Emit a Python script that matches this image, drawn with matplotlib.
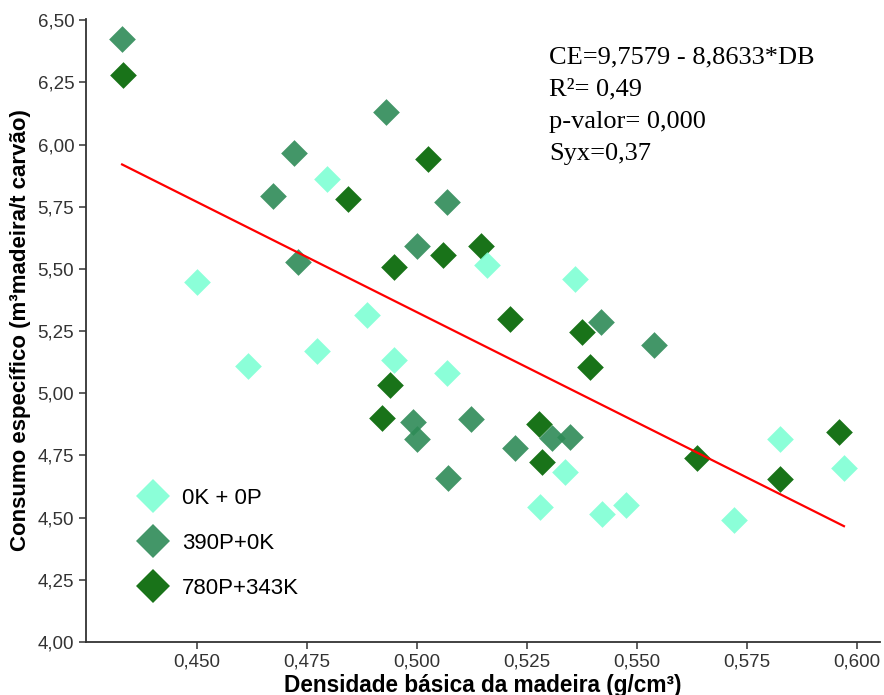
import matplotlib
matplotlib.use('Agg')
import matplotlib.pyplot as plt
from matplotlib.lines import Line2D
from matplotlib.ticker import FuncFormatter
import numpy as np

# densidade basica (g/cm3) e consumo especifico por tratamento
db_0k0p = [0.4500, 0.4617, 0.4796, 0.4774, 0.4887, 0.4948, 0.5068, 0.5159,
           0.5360, 0.5281, 0.5422, 0.5475, 0.5720, 0.5826, 0.5971, 0.5337]
ce_0k0p = [5.448, 5.110, 5.860, 5.170, 5.316, 5.134, 5.081, 5.516,
           5.460, 4.541, 4.515, 4.550, 4.491, 4.816, 4.701, 4.683]

db_390p = [0.4330, 0.4673, 0.4720, 0.4729, 0.4930, 0.5000, 0.5068, 0.4992,
           0.5001, 0.5070, 0.5124, 0.5224, 0.5307, 0.5348, 0.5418, 0.5540]
ce_390p = [6.424, 5.794, 5.967, 5.529, 6.132, 5.593, 5.770, 4.884,
           4.817, 4.659, 4.896, 4.779, 4.822, 4.824, 5.288, 5.194]

db_780p = [0.4333, 0.4844, 0.5026, 0.4948, 0.5060, 0.5145, 0.5211, 0.5375,
           0.5394, 0.4940, 0.4920, 0.5277, 0.5284, 0.5636, 0.5826, 0.5960]
ce_780p = [6.278, 5.780, 5.942, 5.509, 5.556, 5.593, 5.299, 5.245,
           5.106, 5.034, 4.900, 4.876, 4.723, 4.739, 4.656, 4.846]

labels = ['0K + 0P', '390P+0K', '780P+343K']
colors = ['aquamarine', 'seagreen', 'darkgreen']

# CE = a + b*DB
a, b = 9.7579, -8.8633
stats = ['CE=9,7579 - 8,8633*DB', 'R²= 0,49', 'p-valor= 0,000', 'Syx=0,37']

plt.rcParams['font.family'] = 'Liberation Sans'

fig = plt.figure(figsize=(8.84, 6.95), dpi=100)
ax = fig.add_axes([0.0973, 0.0763, 0.8982, 0.8964])

groups = [(db_780p, ce_780p, colors[2]),
          (db_390p, ce_390p, colors[1]),
          (db_0k0p, ce_0k0p, colors[0])]
for x, y, c in groups:
    ax.scatter(x, y, marker='D', s=185, color=c, alpha=0.9, linewidths=0, zorder=2)

all_x = np.array(db_0k0p + db_390p + db_780p)
xl = np.array([all_x.min(), all_x.max()])
ax.plot(xl, a + b * xl, color='red', lw=1.6, zorder=3)

ax.set_xlim(0.4248, 0.6053)
ax.set_ylim(4.0, 6.505)
ax.set_xticks(np.arange(0.450, 0.6001, 0.025))
ax.set_yticks(np.arange(4.0, 6.501, 0.25))
ax.xaxis.set_major_formatter(FuncFormatter(lambda v, p: f'{v:.3f}'.replace('.', ',')))
ax.yaxis.set_major_formatter(FuncFormatter(lambda v, p: f'{v:.2f}'.replace('.', ',')))
ax.tick_params(labelsize=13.5, labelcolor='#333333', color='#333333', length=5, width=1.1)

for s in ['top', 'right']:
    ax.spines[s].set_visible(False)
for s in ['left', 'bottom']:
    ax.spines[s].set_color('#333333')
    ax.spines[s].set_linewidth(1.3)

ax.set_xlabel('Densidade básica da madeira (g/cm³)', fontsize=16.3, fontweight='bold', labelpad=2)
ax.set_ylabel('Consumo específico (m³madeira/t carvão)', fontsize=16, fontweight='bold', labelpad=5)

for i, line in enumerate(stats):
    ax.text(0.583, 0.928 - i * 0.0515, line, transform=ax.transAxes,
            family='Liberation Serif', fontsize=19, va='baseline', ha='left')

handles = [Line2D([], [], marker='D', ls='', color=c, alpha=0.9, markersize=17.3, markeredgewidth=0)
           for c in colors]
ax.legend(handles, labels, loc='lower left', bbox_to_anchor=(0.031, 0.037), frameon=False,
          fontsize=16, labelspacing=1.08, handletextpad=0.3)

fig.savefig('out.png', dpi=100)
